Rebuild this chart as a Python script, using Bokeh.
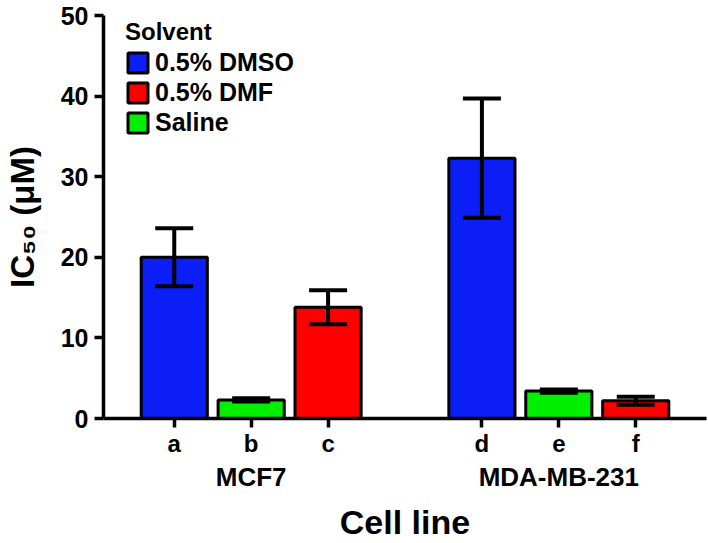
from bokeh.plotting import figure
from bokeh.models import (FactorRange, Range1d, ColumnDataSource, Whisker, TeeHead,
                          Legend, LegendItem)
from bokeh.embed import file_html
from bokeh.resources import INLINE

# ---- data ----
cell_lines = ["MCF7", "MCF7", "MCF7", "MDA-MB-231", "MDA-MB-231", "MDA-MB-231"]
samples = ["a", "b", "c", "d", "e", "f"]
solvents = ["0.5% DMSO", "Saline", "0.5% DMF", "0.5% DMSO", "Saline", "0.5% DMF"]
ic50 = [20.0, 2.3, 13.8, 32.3, 3.4, 2.2]
err = [3.6, 0.2, 2.1, 7.4, 0.2, 0.5]
legend_order = ["0.5% DMSO", "0.5% DMF", "Saline"]
solvent_colors = {"0.5% DMSO": "#0a1ef5", "0.5% DMF": "#ff0000", "Saline": "#00f000"}
y_ticks = [0, 10, 20, 30, 40, 50]

FONT = "Liberation Sans"
factors = list(zip(cell_lines, samples))

p = figure(width=708, height=543,
           x_range=FactorRange(*factors, group_padding=1.0, range_padding=0.42,
                               range_padding_units="absolute"),
           y_range=Range1d(0, 50),
           output_backend="svg", toolbar_location=None,
           min_border_left=98, min_border_right=2, min_border_top=15, min_border_bottom=124)

items = []
for s in legend_order:
    idx = [i for i, v in enumerate(solvents) if v == s]
    src = ColumnDataSource(dict(x=[factors[i] for i in idx], top=[ic50[i] for i in idx]))
    r = p.vbar(x="x", top="top", width=0.86, source=src, fill_color=solvent_colors[s],
               line_color="black", line_width=3)
    items.append(LegendItem(label=s, renderers=[r]))

err_src = ColumnDataSource(dict(base=factors,
                                upper=[v + e for v, e in zip(ic50, err)],
                                lower=[v - e for v, e in zip(ic50, err)]))
w = Whisker(base="base", upper="upper", lower="lower", source=err_src,
            line_width=4, line_color="black", level="annotation",
            upper_head=TeeHead(size=38, line_width=4, line_color="black"),
            lower_head=TeeHead(size=38, line_width=4, line_color="black"))
p.add_layout(w)

legend = Legend(items=items, location=(22, 281), title="Solvent",
                title_text_font=FONT, title_text_font_size="24px", title_text_font_style="bold",
                title_text_color="black", title_standoff=2,
                label_text_font=FONT, label_text_font_size="25px", label_text_font_style="bold",
                label_text_color="black",
                glyph_width=25, glyph_height=25, label_height=25, label_standoff=5, spacing=1,
                padding=0, margin=0, border_line_color=None, background_fill_alpha=0)
p.add_layout(legend)

# y axis
ya = p.yaxis[0]
ya.ticker = y_ticks
ya.axis_label = "IC\u2085\u2080 (\u03bcM)"
ya.axis_label_text_font = FONT
ya.axis_label_text_font_size = "33px"
ya.axis_label_text_font_style = "bold"
ya.axis_label_text_color = "black"
ya.axis_label_standoff = 17
ya.major_label_text_font = FONT
ya.major_label_text_font_size = "25px"
ya.major_label_text_font_style = "bold"
ya.major_label_text_color = "black"
ya.major_label_standoff = 6
ya.axis_line_width = 3.5
ya.major_tick_line_width = 3.5
ya.major_tick_out = 9
ya.major_tick_in = 0
ya.minor_tick_line_color = None

# x axis
xa = p.xaxis[0]
xa.axis_label = "Cell line"
xa.axis_label_text_font = FONT
xa.axis_label_text_font_size = "34px"
xa.axis_label_text_font_style = "bold"
xa.axis_label_text_color = "black"
xa.axis_label_standoff = 8
xa.major_label_text_font = FONT
xa.major_label_text_font_size = "24px"
xa.major_label_text_font_style = "bold"
xa.major_label_text_color = "black"
xa.major_label_standoff = 2
xa.group_text_font = FONT
xa.group_text_font_size = "26px"
xa.group_text_font_style = "bold"
xa.group_text_color = "black"
xa.separator_line_alpha = 0
xa.axis_line_width = 3.5
xa.major_tick_line_width = 3.5
xa.major_tick_out = 9
xa.major_tick_in = 0

p.xgrid.visible = False
p.ygrid.visible = False
p.outline_line_color = None

open("out.html", "w").write(file_html(p, INLINE))
